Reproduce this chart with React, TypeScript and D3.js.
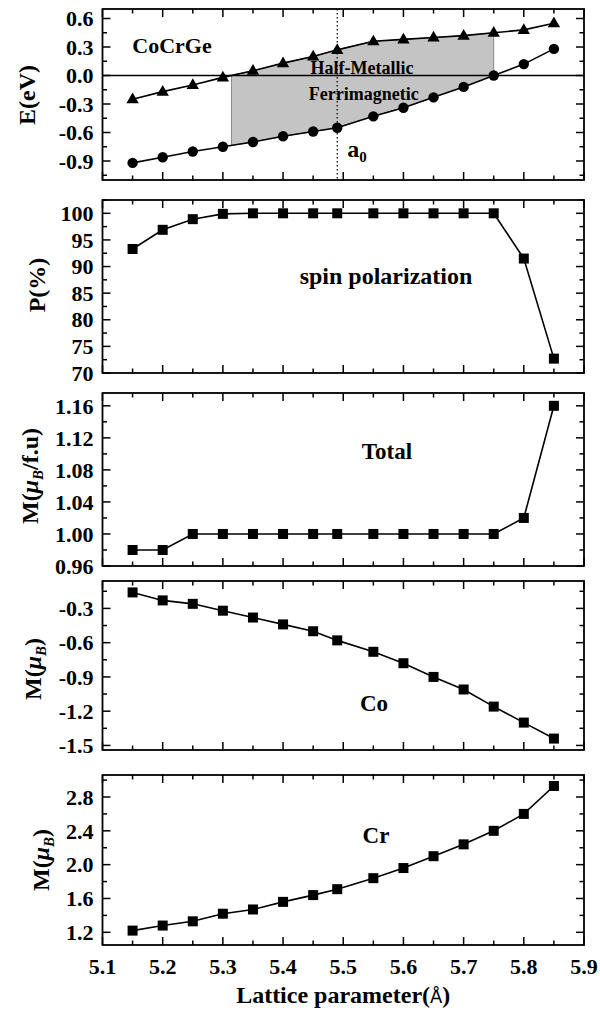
import React from 'react';
import * as d3 from 'd3';

// ---------- data ----------
const lattice = [5.15, 5.2, 5.25, 5.3, 5.35, 5.4, 5.45, 5.49, 5.55, 5.6, 5.65, 5.7, 5.75, 5.8, 5.85];
const eUpper = [-0.25, -0.17, -0.1, -0.02, 0.05, 0.13, 0.2, 0.27, 0.36, 0.38, 0.4, 0.42, 0.45, 0.48, 0.55];
const eLower = [-0.92, -0.86, -0.8, -0.75, -0.7, -0.64, -0.59, -0.55, -0.43, -0.34, -0.23, -0.12, 0.0, 0.12, 0.28];
const polarization = [93.3, 96.9, 98.9, 99.9, 100, 100, 100, 100, 100, 100, 100, 100, 100, 91.5, 72.7];
const mTotal = [0.98, 0.98, 1, 1, 1, 1, 1, 1, 1, 1, 1, 1, 1, 1.02, 1.16];
const mCo = [-0.16, -0.23, -0.26, -0.32, -0.38, -0.44, -0.5, -0.58, -0.68, -0.78, -0.9, -1.01, -1.16, -1.3, -1.44];
const mCr = [1.22, 1.28, 1.33, 1.42, 1.47, 1.56, 1.64, 1.71, 1.84, 1.96, 2.1, 2.24, 2.4, 2.6, 2.93];
const xTickValues = [5.1, 5.2, 5.3, 5.4, 5.5, 5.6, 5.7, 5.8, 5.9];
const a0 = 5.49;

// ---------- layout ----------
const W = 600;
const H = 1014;
const LEFT = 102.5;
const RIGHT = 584;
const FONT = "'Liberation Serif','Times New Roman',serif";

type Marker = 'square' | 'circle' | 'triangle';
interface PanelDef {
  top: number;
  bottom: number;
  domain: [number, number];
  step: number;
  digits: number;
  series: { values: number[]; marker: Marker }[];
  label: React.ReactNode;
  labelX: number;
  labelY: number;
}

const muB = (tail: string) => (
  <>
    <tspan>M(</tspan>
    <tspan fontStyle="italic">μ</tspan>
    <tspan fontStyle="italic" fontSize={15} dy={5}>B</tspan>
    <tspan dy={-5}>{tail}</tspan>
  </>
);

const panels: PanelDef[] = [
  {
    top: 9, bottom: 180, domain: [-1.1, 0.7], step: 0.3, digits: 1,
    series: [{ values: eUpper, marker: 'triangle' }, { values: eLower, marker: 'circle' }],
    label: <tspan>E(eV)</tspan>, labelX: 27, labelY: 95,
  },
  {
    top: 200, bottom: 373, domain: [70, 102.5], step: 5, digits: 0,
    series: [{ values: polarization, marker: 'square' }],
    label: <tspan>P(%)</tspan>, labelX: 37, labelY: 285,
  },
  {
    top: 393, bottom: 566, domain: [0.96, 1.176], step: 0.04, digits: 2,
    series: [{ values: mTotal, marker: 'square' }],
    label: muB('/f.u)'), labelX: 30, labelY: 476,
  },
  {
    top: 581, bottom: 750, domain: [-1.54, -0.06], step: 0.3, digits: 1,
    series: [{ values: mCo, marker: 'square' }],
    label: muB(')'), labelX: 33, labelY: 669,
  },
  {
    top: 775, bottom: 945, domain: [1.05, 3.06], step: 0.4, digits: 1,
    series: [{ values: mCr, marker: 'square' }],
    label: muB(')'), labelX: 41, labelY: 860,
  },
];

function stepTicks(d0: number, d1: number, step: number): number[] {
  const out: number[] = [];
  const s = Math.ceil(d0 / step - 1e-6);
  const e = Math.floor(d1 / step + 1e-6);
  for (let i = s; i <= e; i++) out.push(+(i * step).toFixed(6));
  return out;
}

const x = d3.scaleLinear().domain([5.1, 5.9]).range([LEFT, RIGHT]);

function interp(xs: number[], ys: number[], xv: number): number {
  for (let i = 0; i < xs.length - 1; i++) {
    if (xv >= xs[i] && xv <= xs[i + 1]) {
      const t = (xv - xs[i]) / (xs[i + 1] - xs[i]);
      return ys[i] + t * (ys[i + 1] - ys[i]);
    }
  }
  return ys[ys.length - 1];
}

function crossing(xs: number[], ys: number[], level: number): number {
  for (let i = 0; i < xs.length - 1; i++) {
    if ((ys[i] - level) * (ys[i + 1] - level) <= 0 && ys[i] !== ys[i + 1]) {
      return xs[i] + ((level - ys[i]) / (ys[i + 1] - ys[i])) * (xs[i + 1] - xs[i]);
    }
  }
  return xs[0];
}

const MAJOR = 8;
const MINOR = 4.5;

function MarkerShape({ type, cx, cy }: { type: Marker; cx: number; cy: number }) {
  if (type === 'square') return <rect x={cx - 5} y={cy - 5} width={10} height={10} fill="#000" />;
  if (type === 'circle') return <circle cx={cx} cy={cy} r={5.2} fill="#000" />;
  const p = d3.symbol().type(d3.symbolTriangle).size(66)() as string;
  return <path d={p} transform={`translate(${cx},${cy + 0.5})`} fill="#000" />;
}

function Panel({ p, index }: { p: PanelDef; index: number }) {
  const y = d3.scaleLinear().domain(p.domain).range([p.bottom, p.top]);
  const line = d3
    .line<number>()
    .x((_, i) => x(lattice[i]))
    .y((v) => y(v));
  const majorY = stepTicks(p.domain[0], p.domain[1], p.step);
  const minorY = stepTicks(p.domain[0], p.domain[1], p.step / 2).filter(
    (v) => !majorY.some((m) => Math.abs(m - v) < 1e-6)
  );
  const majorX = stepTicks(5.1, 5.9, 0.1);
  const minorX = stepTicks(5.1, 5.9, 0.05).filter((v) => !majorX.some((m) => Math.abs(m - v) < 1e-6));
  const isBottom = index === panels.length - 1;

  let extras: React.ReactNode = null;
  if (index === 0) {
    const xStart = crossing(lattice, eUpper, 0);
    const xEnd = crossing(lattice, eLower, 0);
    const pts: [number, number][] = [];
    pts.push([xStart, interp(lattice, eUpper, xStart)]);
    lattice.forEach((lx, i) => {
      if (lx > xStart && lx < xEnd) pts.push([lx, eUpper[i]]);
    });
    pts.push([xEnd, interp(lattice, eUpper, xEnd)]);
    pts.push([xEnd, interp(lattice, eLower, xEnd)]);
    for (let i = lattice.length - 1; i >= 0; i--) {
      if (lattice[i] > xStart && lattice[i] < xEnd) pts.push([lattice[i], eLower[i]]);
    }
    pts.push([xStart, interp(lattice, eLower, xStart)]);
    const poly = pts.map(([a, b]) => `${x(a)},${y(b)}`).join(' ');
    extras = (
      <g>
        <polygon points={poly} fill="#c4c4c4" stroke="#8a8a8a" strokeWidth={1} />
        <line x1={LEFT} x2={RIGHT} y1={y(0)} y2={y(0)} stroke="#000" strokeWidth={1.6} />
        <line x1={x(a0)} x2={x(a0)} y1={p.top} y2={p.bottom} stroke="#000" strokeWidth={1.2} strokeDasharray="1.5,2.5" />
        <text x={172} y={53} fontFamily={FONT} fontWeight="bold" fontSize={22} textAnchor="middle">CoCrGe</text>
        <text x={x(5.531)} y={74} fontFamily={FONT} fontWeight="bold" fontSize={18} textAnchor="middle">Half-Metallic</text>
        <text x={x(5.534)} y={100} fontFamily={FONT} fontWeight="bold" fontSize={18} textAnchor="middle">Ferrimagnetic</text>
        <text x={x(a0) + 10} y={157} fontFamily={FONT} fontWeight="bold" fontSize={24}>
          a<tspan fontSize={15} dy={5}>0</tspan>
        </text>
      </g>
    );
  }

  const annotations: Record<number, { text: string; cx: number; baseline: number; size: number }> = {
    1: { text: 'spin polarization', cx: 386, baseline: 284, size: 24 },
    2: { text: 'Total', cx: 387, baseline: 459, size: 23 },
    3: { text: 'Co', cx: 374, baseline: 711, size: 23 },
    4: { text: 'Cr', cx: 376, baseline: 843, size: 23 },
  };
  const ann = annotations[index];

  return (
    <g>
      {extras}
      {p.series.map((s, si) => (
        <g key={si}>
          <path d={line(s.values) as string} fill="none" stroke="#000" strokeWidth={1.6} />
          {s.values.map((v, i) => (
            <MarkerShape key={i} type={s.marker} cx={x(lattice[i])} cy={y(v)} />
          ))}
        </g>
      ))}
      {ann && (
        <text x={ann.cx} y={ann.baseline} fontFamily={FONT} fontWeight="bold" fontSize={ann.size} textAnchor="middle">
          {ann.text}
        </text>
      )}
      <rect x={LEFT} y={p.top} width={RIGHT - LEFT} height={p.bottom - p.top} fill="none" stroke="#000" strokeWidth={1.8} />
      {majorY.map((v) => (
        <g key={'my' + v}>
          <line x1={LEFT} x2={LEFT + MAJOR} y1={y(v)} y2={y(v)} stroke="#000" strokeWidth={1.5} />
          <line x1={RIGHT} x2={RIGHT - MAJOR} y1={y(v)} y2={y(v)} stroke="#000" strokeWidth={1.5} />
          <text x={LEFT - 9} y={y(v)} dy="0.35em" textAnchor="end" fontFamily={FONT} fontWeight="bold" fontSize={22}>
            {v.toFixed(p.digits)}
          </text>
        </g>
      ))}
      {minorY.map((v) => (
        <g key={'ny' + v}>
          <line x1={LEFT} x2={LEFT + MINOR} y1={y(v)} y2={y(v)} stroke="#000" strokeWidth={1.5} />
          <line x1={RIGHT} x2={RIGHT - MINOR} y1={y(v)} y2={y(v)} stroke="#000" strokeWidth={1.5} />
        </g>
      ))}
      {majorX.map((v) => (
        <g key={'mx' + v}>
          <line x1={x(v)} x2={x(v)} y1={p.bottom} y2={p.bottom - MAJOR} stroke="#000" strokeWidth={1.5} />
          <line x1={x(v)} x2={x(v)} y1={p.top} y2={p.top + MAJOR} stroke="#000" strokeWidth={1.5} />
        </g>
      ))}
      {minorX.map((v) => (
        <g key={'nx' + v}>
          <line x1={x(v)} x2={x(v)} y1={p.bottom} y2={p.bottom - MINOR} stroke="#000" strokeWidth={1.5} />
          <line x1={x(v)} x2={x(v)} y1={p.top} y2={p.top + MINOR} stroke="#000" strokeWidth={1.5} />
        </g>
      ))}
      {isBottom &&
        xTickValues.map((v) => (
          <text key={'xl' + v} x={x(v)} y={p.bottom + 29} textAnchor="middle" fontFamily={FONT} fontWeight="bold" fontSize={22}>
            {v.toFixed(1)}
          </text>
        ))}
      <text
        transform={`translate(${p.labelX},${p.labelY}) rotate(-90)`}
        textAnchor="middle"
        dy="0.35em"
        fontFamily={FONT}
        fontWeight="bold"
        fontSize={24}
      >
        {p.label}
      </text>
    </g>
  );
}

export default function App() {
  return (
    <svg
      width={W}
      height={H}
      viewBox={`0 0 ${W} ${H}`}
      style={{ position: 'absolute', left: 0, top: 0, background: '#fff' }}
    >
      <rect x={0} y={0} width={W} height={H} fill="#fff" />
      {panels.map((p, i) => (
        <Panel key={i} p={p} index={i} />
      ))}
      <text x={(LEFT + RIGHT) / 2} y={1003} textAnchor="middle" fontFamily={FONT} fontWeight="bold" fontSize={24}>
        Lattice parameter(
        <tspan fontFamily="'DejaVu Sans',sans-serif" fontWeight="normal" fontSize={18}>Å</tspan>)
      </text>
    </svg>
  );
}
